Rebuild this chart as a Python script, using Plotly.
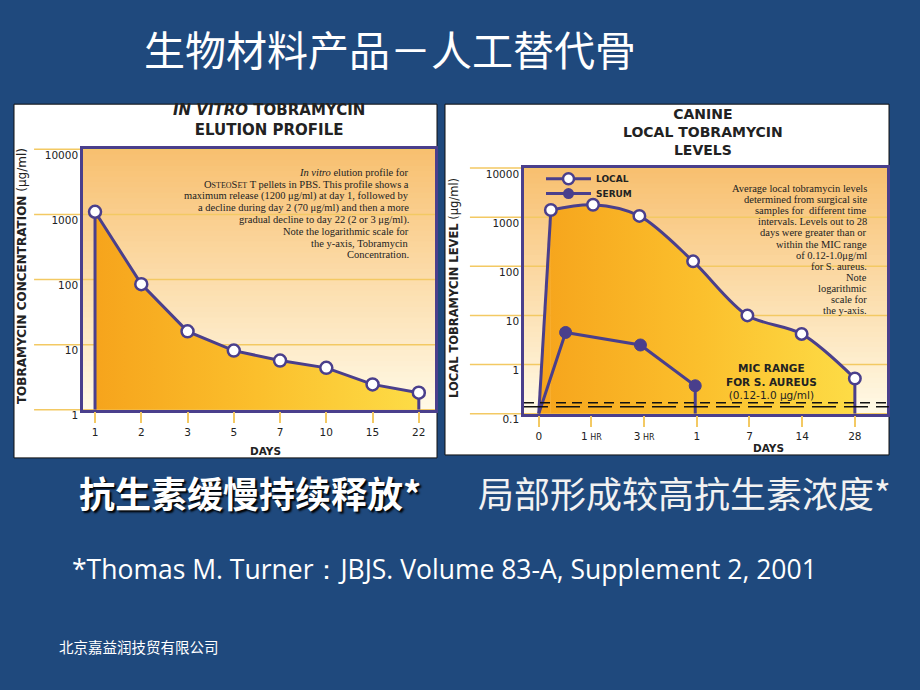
import math
import plotly.graph_objects as go

W, H = 920, 690

# ---------------- data ----------------
# Left: in vitro elution profile
vitro_days = ["1", "2", "3", "5", "7", "10", "15", "22"]
vitro_conc = [1100, 85, 16, 8.1, 5.7, 4.4, 2.45, 1.83]
vitro_yticks = [1, 10, 100, 1000, 10000]

# Right: canine local tobramycin levels
canine_xlabels = ["0", "1<span style='font-size:8px'> HR</span>", "3<span style='font-size:8px'> HR</span>",
                  "1", "7", "14", "28"]
local_x = [0.23, 1.03, 1.91, 2.93, 3.96, 4.99, 6.0]
local_level = [1400, 1790, 1060, 126, 10, 4.2, 0.52]
serum_x = [0.51, 1.93, 2.97]
serum_level = [4.5, 2.5, 0.37]
canine_yticks = [0.1, 1, 10, 100, 1000, 10000]
mic_levels = [0.166, 0.138]

# ---------------- style ----------------
BG = "#1f497d"
PURPLE = "#4a3f8c"
GRID = "#f3c963"
INK = "#222222"
WIDE = "DejaVu Sans"
SERIF = "Liberation Serif"
CJK = "Noto Sans CJK SC"
FILL_SCALE = [[0, "#f6a41c"], [0.5, "#fbbf2c"], [1, "#fddc46"]]
PLOT_TOP, PLOT_BOTTOM = "#f8c070", "#fff9e6"

L_YR = [0, 4]
R_YR = [-1, 4]


def px(x):
    return x / W


def py(y):
    return 1 - y / H


def mix(c1, c2, t):
    a = [int(c1[i:i + 2], 16) for i in (1, 3, 5)]
    b = [int(c2[i:i + 2], 16) for i in (1, 3, 5)]
    return "#%02x%02x%02x" % tuple(round(a[k] + (b[k] - a[k]) * t) for k in range(3))


fig = go.Figure()

# ----- left chart traces -----
lx = list(range(len(vitro_days)))
lbot = 10 ** L_YR[0]
fig.add_trace(go.Scatter(
    x=[lx[0]] + lx + [lx[-1]], y=[lbot] + vitro_conc + [lbot],
    mode="lines", fill="toself",
    fillgradient=dict(type="horizontal", colorscale=FILL_SCALE),
    line=dict(color=PURPLE, width=3), showlegend=False, hoverinfo="skip",
    xaxis="x", yaxis="y"))
fig.add_trace(go.Scatter(
    x=lx, y=vitro_conc, mode="markers",
    marker=dict(symbol="circle", size=12, color="white", line=dict(color=PURPLE, width=2.5)),
    showlegend=False, xaxis="x", yaxis="y"))

# ----- right chart traces -----
rbot = 10 ** R_YR[0]
grad_r = dict(type="horizontal", colorscale=FILL_SCALE, start=0, stop=local_x[-1])
# baseline for the area under the smooth local curve
fig.add_trace(go.Scatter(
    x=[local_x[0], local_x[-1]], y=[rbot, rbot], mode="lines", line=dict(width=0),
    showlegend=False, hoverinfo="skip", xaxis="x2", yaxis="y2"))
fig.add_trace(go.Scatter(
    x=local_x, y=local_level, mode="lines", fill="tonexty", fillgradient=grad_r,
    line=dict(color=PURPLE, width=3, shape="spline", smoothing=0.9),
    showlegend=False, hoverinfo="skip", xaxis="x2", yaxis="y2"))
# rising wedge from time zero to the first sample
fig.add_trace(go.Scatter(
    x=[0, local_x[0], local_x[0]], y=[rbot, local_level[0], rbot], mode="lines", fill="toself",
    fillgradient=grad_r, line=dict(width=0),
    showlegend=False, hoverinfo="skip", xaxis="x2", yaxis="y2"))
fig.add_trace(go.Scatter(
    x=[0, local_x[0]], y=[rbot, local_level[0]], mode="lines", line=dict(color=PURPLE, width=3),
    showlegend=False, hoverinfo="skip", xaxis="x2", yaxis="y2"))
fig.add_trace(go.Scatter(
    x=[local_x[-1], local_x[-1]], y=[local_level[-1], rbot], mode="lines", line=dict(color=PURPLE, width=3),
    showlegend=False, hoverinfo="skip", xaxis="x2", yaxis="y2"))
# serum
fig.add_trace(go.Scatter(
    x=[0] + serum_x + [serum_x[-1]], y=[rbot] + serum_level + [rbot],
    mode="lines", line=dict(color=PURPLE, width=3),
    showlegend=False, hoverinfo="skip", xaxis="x2", yaxis="y2"))
fig.add_trace(go.Scatter(
    x=local_x, y=local_level, mode="markers", name="LOCAL",
    marker=dict(symbol="circle", size=11.5, color="white", line=dict(color=PURPLE, width=2.5)),
    showlegend=False, xaxis="x2", yaxis="y2"))
fig.add_trace(go.Scatter(
    x=serum_x, y=serum_level, mode="markers", name="SERUM",
    marker=dict(symbol="circle", size=12, color=PURPLE, line=dict(color=PURPLE, width=1)),
    showlegend=False, xaxis="x2", yaxis="y2"))
# legend entries
fig.add_trace(go.Scatter(
    x=[None], y=[None], mode="lines+markers", name="LOCAL", legend="legend",
    line=dict(color=PURPLE, width=3),
    marker=dict(symbol="circle", size=11, color="white", line=dict(color=PURPLE, width=2.5)),
    xaxis="x2", yaxis="y2"))
fig.add_trace(go.Scatter(
    x=[None], y=[None], mode="lines+markers", name="SERUM", legend="legend2",
    line=dict(color=PURPLE, width=3),
    marker=dict(symbol="circle", size=11, color=PURPLE),
    xaxis="x2", yaxis="y2"))

# ---------------- shapes ----------------
shapes = []
# white panels
shapes.append(dict(type="rect", xref="paper", yref="paper", x0=px(14), x1=px(437), y0=py(466), y1=py(106),
                   fillcolor="white", line=dict(color="#111111", width=1), layer="below"))
shapes.append(dict(type="rect", xref="paper", yref="paper", x0=px(445), x1=px(889), y0=py(463), y1=py(106),
                   fillcolor="white", line=dict(color="#111111", width=1), layer="below"))

# plot background vertical gradients
N = 48
for xr, yr in (("x domain", "y domain"), ("x2 domain", "y2 domain")):
    for i in range(N):
        t = i / (N - 1)
        shapes.append(dict(type="rect", xref=xr, yref=yr, x0=0, x1=1,
                           y0=1 - (i + 1) / N - 0.003, y1=1 - i / N,
                           fillcolor=mix(PLOT_TOP, PLOT_BOTTOM, t), line=dict(width=0), layer="below"))

# grid lines extended into the left margin
for v in vitro_yticks:
    f = (math.log10(v) - L_YR[0]) / (L_YR[1] - L_YR[0])
    shapes.append(dict(type="line", xref="x domain", yref="y domain", x0=-0.139, x1=1, y0=f, y1=f,
                       line=dict(color=GRID, width=1.5), layer="below"))
for v in canine_yticks:
    f = (math.log10(v) - R_YR[0]) / (R_YR[1] - R_YR[0])
    shapes.append(dict(type="line", xref="x2 domain", yref="y2 domain", x0=-0.149, x1=1, y0=f, y1=f,
                       line=dict(color=GRID, width=1.5), layer="below"))

# MIC dashed lines
for v, d in zip(mic_levels, ["10px,6px", "24px,8px"]):
    f = (math.log10(v) - R_YR[0]) / (R_YR[1] - R_YR[0])
    shapes.append(dict(type="line", xref="x2 domain", yref="y2 domain", x0=0, x1=1.005, y0=f, y1=f,
                       line=dict(color="#111111", width=1.5, dash=d), layer="above"))

# ---------------- annotations ----------------
ann = []


def text(x, y, s, size, color=INK, family=WIDE, xanchor="center", yanchor="middle", align="center",
         angle=0, weight=None, shadow=None):
    f = dict(family=family, size=size, color=color)
    if weight:
        f["weight"] = weight
    if shadow:
        f["shadow"] = shadow
    ann.append(dict(x=px(x), y=py(y), xref="paper", yref="paper", text=s, showarrow=False,
                    font=f, xanchor=xanchor, yanchor=yanchor, align=align, textangle=angle))


# slide texts
text(390, 49, "生物材料产品－人工替代骨", 41, color="white", family=CJK)
text(250, 501, "抗生素缓慢持续释放*", 36, color="white", family=CJK, weight="bold",
     shadow="2px 2px 2px #000000")
text(684, 501, "局部形成较高抗生素浓度*", 36, color="#f2f2f2", family=CJK)
text(70, 579, "*Thomas M. Turner：JBJS. Volume 83-A, Supplement 2, 2001", 26.5, color="white",
     family="Open Sans", xanchor="left")
text(57, 658, "北京嘉益润技贸有限公司", 14.5, color="white", family=CJK, xanchor="left")

# chart titles
text(269, 122, "<b><i>IN VITRO</i> TOBRAMYCIN<br>ELUTION PROFILE</b>", 15)
text(703, 134, "<b>CANINE<br>LOCAL TOBRAMYCIN<br>LEVELS</b>", 14)

# axis titles
text(22, 281, "<b>TOBRAMYCIN CONCENTRATION</b> (μg/ml)", 12, angle=-90)
text(454, 293, "<b>LOCAL TOBRAMYCIN LEVEL</b> (μg/ml)", 11.5, angle=-90)
text(265, 459, "<b>DAYS</b>", 10.5)
text(768, 456, "<b>DAYS</b>", 10.5)

# MIC label
text(771, 388, "<b>MIC RANGE<br>FOR S. AUREUS</b><br>(0.12-1.0 μg/ml)", 10.5)

# explanatory notes (serif)
left_note = [
    "<i>In vitro</i> elution profile for",
    "O<span style='font-size:8px'>STEO</span>S<span style='font-size:8px'>ET</span> T pellets in PBS. This profile shows a",
    "maximum release (1200 μg/ml) at day 1, followed by",
    "a decline during day 2 (70 μg/ml) and then a more",
    "gradual decline to day 22 (2 or 3 μg/ml).",
    "Note the logarithmic scale for",
    "the y-axis, Tobramycin",
    "Concentration.",
]
for i, s in enumerate(left_note):
    text(411, 176 + i * 11.9, s, 10.5, family=SERIF, xanchor="right", align="right")

right_note = [
    "Average local tobramycin levels",
    "determined from surgical site",
    "samples for  different time",
    "intervals. Levels out to 28",
    "days were greater than or",
    "within the MIC range",
    "of 0.12-1.0μg/ml",
    "for S. aureus.",
    "Note",
    "logarithmic",
    "scale for",
    "the y-axis.",
]
for i, s in enumerate(right_note):
    text(869, 192 + i * 11.27, s, 10.5, family=SERIF, xanchor="right", align="right")

# ---------------- layout ----------------
tickfont = dict(family=WIDE, size=10.5, color=INK)
common_x = dict(showgrid=False, zeroline=False, showline=True, mirror=True, linecolor=PURPLE, linewidth=2.5,
                ticks="outside", ticklen=11, tickwidth=1.5, tickcolor=GRID, tickfont=tickfont, fixedrange=True)
common_y = dict(type="log", showgrid=False, zeroline=False, showline=True, mirror=True, linecolor=PURPLE,
                linewidth=2.5, ticks="", tickfont=tickfont, ticklabelshift=6, fixedrange=True)
legfont = dict(family=WIDE, size=9, color=INK, weight="bold")

fig.update_layout(
    width=W, height=H, autosize=False,
    margin=dict(l=0, r=0, t=0, b=0),
    paper_bgcolor=BG, plot_bgcolor="rgba(0,0,0,0)",
    xaxis=dict(common_x, domain=[px(83), px(435)], range=[-0.26, 7.35], anchor="y",
               tickvals=lx, ticktext=vitro_days),
    yaxis=dict(common_y, domain=[py(417), py(152)], range=L_YR, anchor="x",
               tickvals=vitro_yticks, ticktext=[str(v) for v in vitro_yticks]),
    xaxis2=dict(common_x, domain=[px(524), px(887)], range=[-0.28, 6.61], anchor="y2",
                tickvals=list(range(len(canine_xlabels))), ticktext=canine_xlabels),
    yaxis2=dict(common_y, domain=[py(421), py(171)], range=R_YR, anchor="x2",
                tickvals=canine_yticks, ticktext=[str(v) for v in canine_yticks]),
    legend=dict(x=px(541), y=py(182), xanchor="left", yanchor="middle", bgcolor="rgba(0,0,0,0)",
                font=legfont, itemwidth=45),
    legend2=dict(x=px(541), y=py(197), xanchor="left", yanchor="middle", bgcolor="rgba(0,0,0,0)",
                 font=legfont, itemwidth=45),
    shapes=shapes,
    annotations=ann,
)

fig.write_html(
    "out.html",
    config={"displayModeBar": False},
    post_script="document.body.style.margin='0';",
)
